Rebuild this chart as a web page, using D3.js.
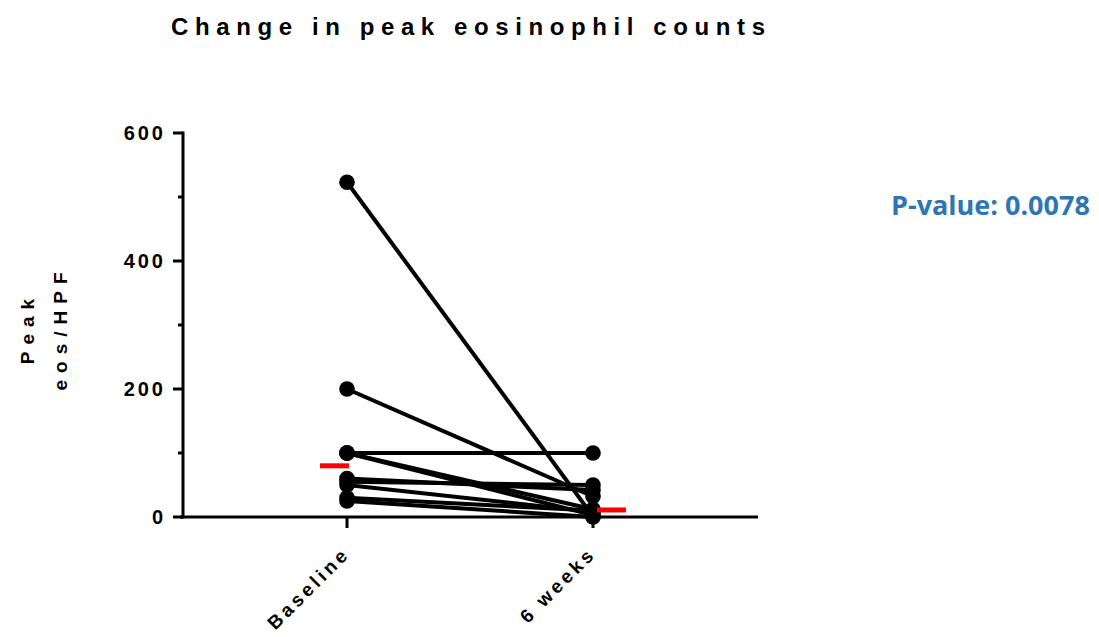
<!DOCTYPE html>
<html>
<head>
<meta charset="utf-8">
<script src="https://cdn.jsdelivr.net/npm/d3@7"></script>
<style>
  body { margin: 0; background: #fff; }
  text { font-family: "Liberation Sans", Arial, sans-serif; font-weight: bold; }
</style>
</head>
<body>
<svg id="chart" width="1099" height="637"></svg>
<script>
// timepoints and per-patient peak eos/HPF
var timepoints = ["Baseline", "6 weeks"];
var baseline = [523, 200, 100, 100, 100, 60, 55, 50, 30, 25];
var week6 = [1, 32, 100, 12, 3, 42, 50, 8, 10, 0];
var yTicks = [0, 200, 400, 600];
var yMinor = [100, 300, 500];
var pValue = "P-value: 0.0078";

var svg = d3.select("#chart");

var x = d3.scalePoint().domain(timepoints).range([347, 593]);
var y = d3.scaleLinear().domain([0, 600]).range([517, 133]);

// title
svg.append("text")
    .attr("x", 171).attr("y", 35)
    .attr("font-size", 24)
    .attr("letter-spacing", 6.6)
    .text("Change in peak eosinophil counts");

// y axis
var yAxis = svg.append("g").attr("transform", "translate(183,0)");
yAxis.append("line")
    .attr("x1", 0).attr("x2", 0)
    .attr("y1", y(600) - 1.5).attr("y2", y(0) + 1.5)
    .attr("stroke", "#000").attr("stroke-width", 3);
yAxis.selectAll(".major").data(yTicks).enter().append("line")
    .attr("x1", -10).attr("x2", 0)
    .attr("y1", d => y(d)).attr("y2", d => y(d))
    .attr("stroke", "#000").attr("stroke-width", 3);
yAxis.selectAll(".minor").data(yMinor).enter().append("line")
    .attr("x1", -5).attr("x2", 0)
    .attr("y1", d => y(d)).attr("y2", d => y(d))
    .attr("stroke", "#000").attr("stroke-width", 3);
yAxis.selectAll(".lbl").data(yTicks).enter().append("text")
    .attr("x", -17).attr("y", d => y(d))
    .attr("dy", "0.36em")
    .attr("text-anchor", "end")
    .attr("font-size", 20)
    .attr("letter-spacing", 3)
    .text(d => d);

// y title
var yt = svg.append("g").attr("transform", "translate(0,328) rotate(-90)");
yt.append("text").attr("x", 0).attr("y", 34).attr("text-anchor", "middle")
    .attr("font-size", 19).attr("letter-spacing", 7).text("Peak");
yt.append("text").attr("x", 0).attr("y", 67).attr("text-anchor", "middle")
    .attr("font-size", 19).attr("letter-spacing", 7).text("eos/HPF");

// x axis
svg.append("line")
    .attr("x1", 180).attr("x2", 758)
    .attr("y1", y(0)).attr("y2", y(0))
    .attr("stroke", "#000").attr("stroke-width", 3);
svg.selectAll(".xtick").data(timepoints).enter().append("line")
    .attr("x1", d => x(d)).attr("x2", d => x(d))
    .attr("y1", y(0)).attr("y2", y(0) + 11)
    .attr("stroke", "#000").attr("stroke-width", 3);
svg.selectAll(".xlbl").data(timepoints).enter().append("text")
    .attr("transform", d => "translate(" + (x(d) + 4) + "," + (y(0) + 38) + ") rotate(-45)")
    .attr("text-anchor", "end")
    .attr("font-size", 19)
    .attr("letter-spacing", 3.6)
    .text(d => d);

// paired lines
var pairs = baseline.map((b, i) => [b, week6[i]]);
svg.selectAll(".pair").data(pairs).enter().append("line")
    .attr("x1", x("Baseline")).attr("y1", d => y(d[0]))
    .attr("x2", x("6 weeks")).attr("y2", d => y(d[1]))
    .attr("stroke", "#000").attr("stroke-width", 4);

// points
[baseline, week6].forEach(function(vals, j) {
  svg.selectAll(".pt" + j).data(vals).enter().append("circle")
      .attr("cx", x(timepoints[j]))
      .attr("cy", d => y(d))
      .attr("r", 7.8)
      .attr("fill", "#000");
});

// medians
svg.append("rect")
    .attr("x", x("Baseline") - 27).attr("y", y(d3.median(baseline)) - 2.5)
    .attr("width", 29).attr("height", 5).attr("fill", "#ff0000");
svg.append("rect")
    .attr("x", x("6 weeks") + 4).attr("y", y(d3.median(week6)) - 2.5)
    .attr("width", 29).attr("height", 5).attr("fill", "#ff0000");

// p-value
svg.append("text")
    .attr("x", 891).attr("y", 215)
    .style("font-family", "'Open Sans', sans-serif")
    .attr("font-size", 27)
    .attr("fill", "#2e75b6")
    .text(pValue);
</script>
</body>
</html>
